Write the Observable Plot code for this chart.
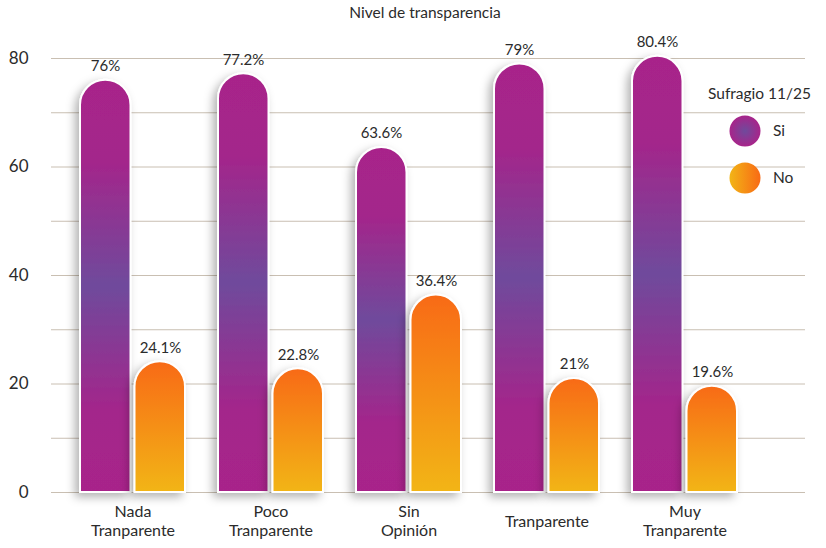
<!DOCTYPE html>
<html>
<head>
<meta charset="utf-8">
<script src="https://cdn.jsdelivr.net/npm/d3@7"></script>
<script src="https://cdn.jsdelivr.net/npm/@observablehq/plot@0.6"></script>
<style>
  body { margin: 0; background: #fff; font-family: Lato, "Open Sans", sans-serif; color: #2b2b2b; }
  #wrap { position: relative; width: 826px; height: 548px; }
  #title { height: 26px; position: relative; }
  #title span { position: absolute; left: 425px; top: 3px; transform: translateX(-50%); font-size: 15.5px; white-space: nowrap; }
  #legend { position: absolute; left: 0; top: 0; width: 826px; height: 548px; pointer-events: none; }
  #legend div { position: absolute; font-size: 15.5px; white-space: nowrap; }
</style>
</head>
<body>
<svg width="0" height="0" style="position:absolute">
  <defs>
    <linearGradient id="gSi" x1="0" y1="0" x2="0" y2="1">
      <stop offset="0" stop-color="#a8248a"/>
      <stop offset="0.2" stop-color="#a3268b"/>
      <stop offset="0.5" stop-color="#6f4a9c"/>
      <stop offset="0.8" stop-color="#a3268b"/>
      <stop offset="1" stop-color="#a8248a"/>
    </linearGradient>
    <linearGradient id="gNo" x1="0" y1="0" x2="0" y2="1">
      <stop offset="0" stop-color="#f86a15"/>
      <stop offset="1" stop-color="#f2b516"/>
    </linearGradient>
    <radialGradient id="gSiLeg" cx="0.5" cy="0.5" r="0.5">
      <stop offset="0" stop-color="#6f4a9c"/>
      <stop offset="1" stop-color="#a8248a"/>
    </radialGradient>
    <linearGradient id="gNoLeg" x1="0" y1="0" x2="1" y2="0">
      <stop offset="0" stop-color="#f2b516"/>
      <stop offset="1" stop-color="#f86a15"/>
    </linearGradient>
    <filter id="shadow" x="-40%" y="-20%" width="160%" height="140%">
      <feDropShadow dx="-4" dy="4" stdDeviation="5" flood-color="#000" flood-opacity="0.3"/>
    </filter>
  </defs>
</svg>
<div id="wrap">
  <div id="title"><span>Nivel de transparencia</span></div>
  <div id="chart"></div>
  <div id="legend"></div>
</div>
<script>
const categories = ["Nada\nTranparente", "Poco\nTranparente", "Sin\nOpinión", "Tranparente", "Muy\nTranparente"];
const seriesNames = ["Si", "No"];
const siValues = [76, 77.2, 63.6, 79, 80.4];
const noValues = [24.1, 22.8, 36.4, 21, 19.6];
const yTicks = [0, 20, 40, 60, 80];
const gridTicks = [0, 10, 20, 30, 40, 50, 60, 70, 80];
const legendTitle = "Sufragio 11/25";

const siData = categories.map((c, i) => ({category: c, value: siValues[i]}));
const noData = categories.map((c, i) => ({category: c, value: noValues[i]}));

const fontFam = "Lato, 'Open Sans', sans-serif";

const chart = Plot.plot({
  width: 826,
  height: 522,
  marginTop: 32,
  marginBottom: 56,
  marginLeft: 51,
  marginRight: 21,
  style: {fontFamily: fontFam, color: "#2b2b2b", background: "transparent", overflow: "visible"},
  x: {domain: categories, range: [49, 769], paddingInner: 0.2374, paddingOuter: 0.2093, axis: null},
  y: {domain: [0, 80], axis: null},
  marks: [
    Plot.ruleY(gridTicks, {stroke: "#c9bfb2", strokeWidth: 1}),
    Plot.text(yTicks, {y: d => d, frameAnchor: "left", dx: -23, textAnchor: "end", text: d => String(d), fontSize: 17, fill: "#2b2b2b"}),
    Plot.barY(siData, {x: "category", y: "value", fill: "url(#gSi)", insetLeft: 0, insetRight: 54.5, stroke: "white", strokeWidth: 2}),
    Plot.barY(noData, {x: "category", y: "value", fill: "url(#gNo)", insetLeft: 54.5, insetRight: 0, stroke: "white", strokeWidth: 2}),
    Plot.text(siData, {x: "category", y: "value", text: d => d.value + "%", dx: -27.5, dy: -14, fontSize: 15, fill: "#2b2b2b"}),
    Plot.text(noData, {x: "category", y: "value", text: d => d.value + "%", dx: 27.5, dy: -14, fontSize: 15, fill: "#2b2b2b"}),
    Plot.text(categories, {x: d => d, frameAnchor: "bottom", dy: 28, lineAnchor: "middle", lineHeight: 1.2, text: d => d, fontSize: 16, fill: "#2b2b2b"})
  ]
});
document.getElementById("chart").appendChild(chart);

// Turn the bar rects into rounded-top paths (geometry from Plot's scales)
chart.querySelectorAll('g[aria-label="bar"]').forEach(g => {
  g.setAttribute("filter", "url(#shadow)");
  g.querySelectorAll("rect").forEach(r => {
    const x = +r.getAttribute("x"), y = +r.getAttribute("y");
    const w = +r.getAttribute("width"), h = +r.getAttribute("height");
    const rad = w / 2;
    const p = document.createElementNS("http://www.w3.org/2000/svg", "path");
    p.setAttribute("d", `M${x},${y + h}V${y + rad}A${rad},${rad} 0 0 1 ${x + w},${y + rad}V${y + h}Z`);
    const fill = r.getAttribute("fill") || g.getAttribute("fill");
    if (fill) p.setAttribute("fill", fill);
    r.replaceWith(p);
  });
});

// Legend
const legend = document.getElementById("legend");
legend.innerHTML = `
  <div style="left:708px; top:84px;">${legendTitle}</div>
  <svg style="position:absolute; left:728px; top:114px; overflow:visible" width="34" height="34"><circle cx="17" cy="17" r="15.5" fill="url(#gSiLeg)"/></svg>
  <div style="left:773px; top:121px;">${seriesNames[0]}</div>
  <svg style="position:absolute; left:728px; top:161px; overflow:visible" width="34" height="34"><circle cx="17" cy="17" r="15.5" fill="url(#gNoLeg)"/></svg>
  <div style="left:773px; top:168px;">${seriesNames[1]}</div>
`;
</script>
</body>
</html>
